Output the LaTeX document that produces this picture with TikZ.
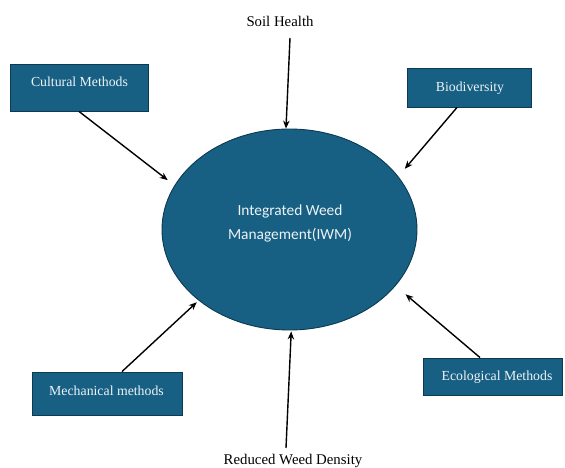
\documentclass[tikz,border=0pt]{standalone}
\usepackage{fontspec}
\setmainfont{Liberation Serif}
\newfontfamily\carl{Carlito}
\usetikzlibrary{shapes.geometric,arrows.meta,calc}
\definecolor{iwmfill}{HTML}{176084}
\definecolor{iwmline}{HTML}{0C3A50}
\definecolor{iwmtext}{HTML}{EEF3F7}
\tikzset{
  boxshape/.style={draw=iwmline, line width=0.9pt, fill=iwmfill, rectangle, inner sep=0pt},
  boxtext/.style={text=iwmtext, font=\fontsize{13.8}{16}\selectfont, anchor=base, inner sep=0pt},
  outertext/.style={text=black, font=\fontsize{14.8}{17}\selectfont, anchor=base, inner sep=0pt},
  conn/.style={draw=black, line width=1.4pt, -{Stealth[length=8pt,width=6.5pt]}}
}
\begin{document}
\begin{tikzpicture}[x=1pt,y=-1pt]
\useasboundingbox (0,0) rectangle (565,468);
% centre
\node[ellipse, draw=iwmline, line width=0.9pt, fill=iwmfill, minimum width=255pt, minimum height=201pt, inner sep=0pt] (iwm) at (289.5,229.5) {};
\node[text=iwmtext, font=\carl\fontsize{15.4}{18}\selectfont, anchor=base, inner sep=0pt] (iwmA) at (290,215) {Integrated Weed};
\node[text=iwmtext, font=\carl\fontsize{15.4}{18}\selectfont, anchor=base, inner sep=0pt] (iwmB) at (290,239.5) {Management(IWM)};
% boxes
\node[boxshape, minimum width=138pt, minimum height=47pt] (cult) at (79,87.5) {};
\node[boxtext] (cultT) at (79.5,86.7) {Cultural Methods};
\node[boxshape, minimum width=124pt, minimum height=39pt] (bio) at (469,87.5) {};
\node[boxtext] (bioT) at (470,91.7) {Biodiversity};
\node[boxshape, minimum width=150pt, minimum height=43pt] (mech) at (107,393.5) {};
\node[boxtext] (mechT) at (106.5,395.7) {Mechanical methods};
\node[boxshape, minimum width=139pt, minimum height=37pt] (eco) at (492.5,376.5) {};
\node[boxtext] (ecoT) at (497,380.5) {Ecological Methods};
% outer labels
\node[outertext] (soil) at (280,26.5) {Soil Health};
\node[outertext] (red) at (293,464.5) {Reduced Weed Density};
% connectors
\draw[conn, shorten >=8.5pt] (cult.south) -- (iwm.159);
\draw[conn, shorten >=10pt] ($(bio.south)+(-12,0)$) -- (iwm.26);
\draw[conn, shorten >=2.5pt] ($(mech.north)+(15,0)$) -- (iwm.218);
\draw[conn, shorten >=13pt] ($(eco.north)+(-12.5,0)$) -- (iwm.332);
\draw[conn] ($(soil.base)+(10,11.5)$) -- (iwm.92);
\draw[conn, shorten >=1pt] ($(red.base)+(-7,-16.5)$) -- (iwm.271);
\end{tikzpicture}
\end{document}
